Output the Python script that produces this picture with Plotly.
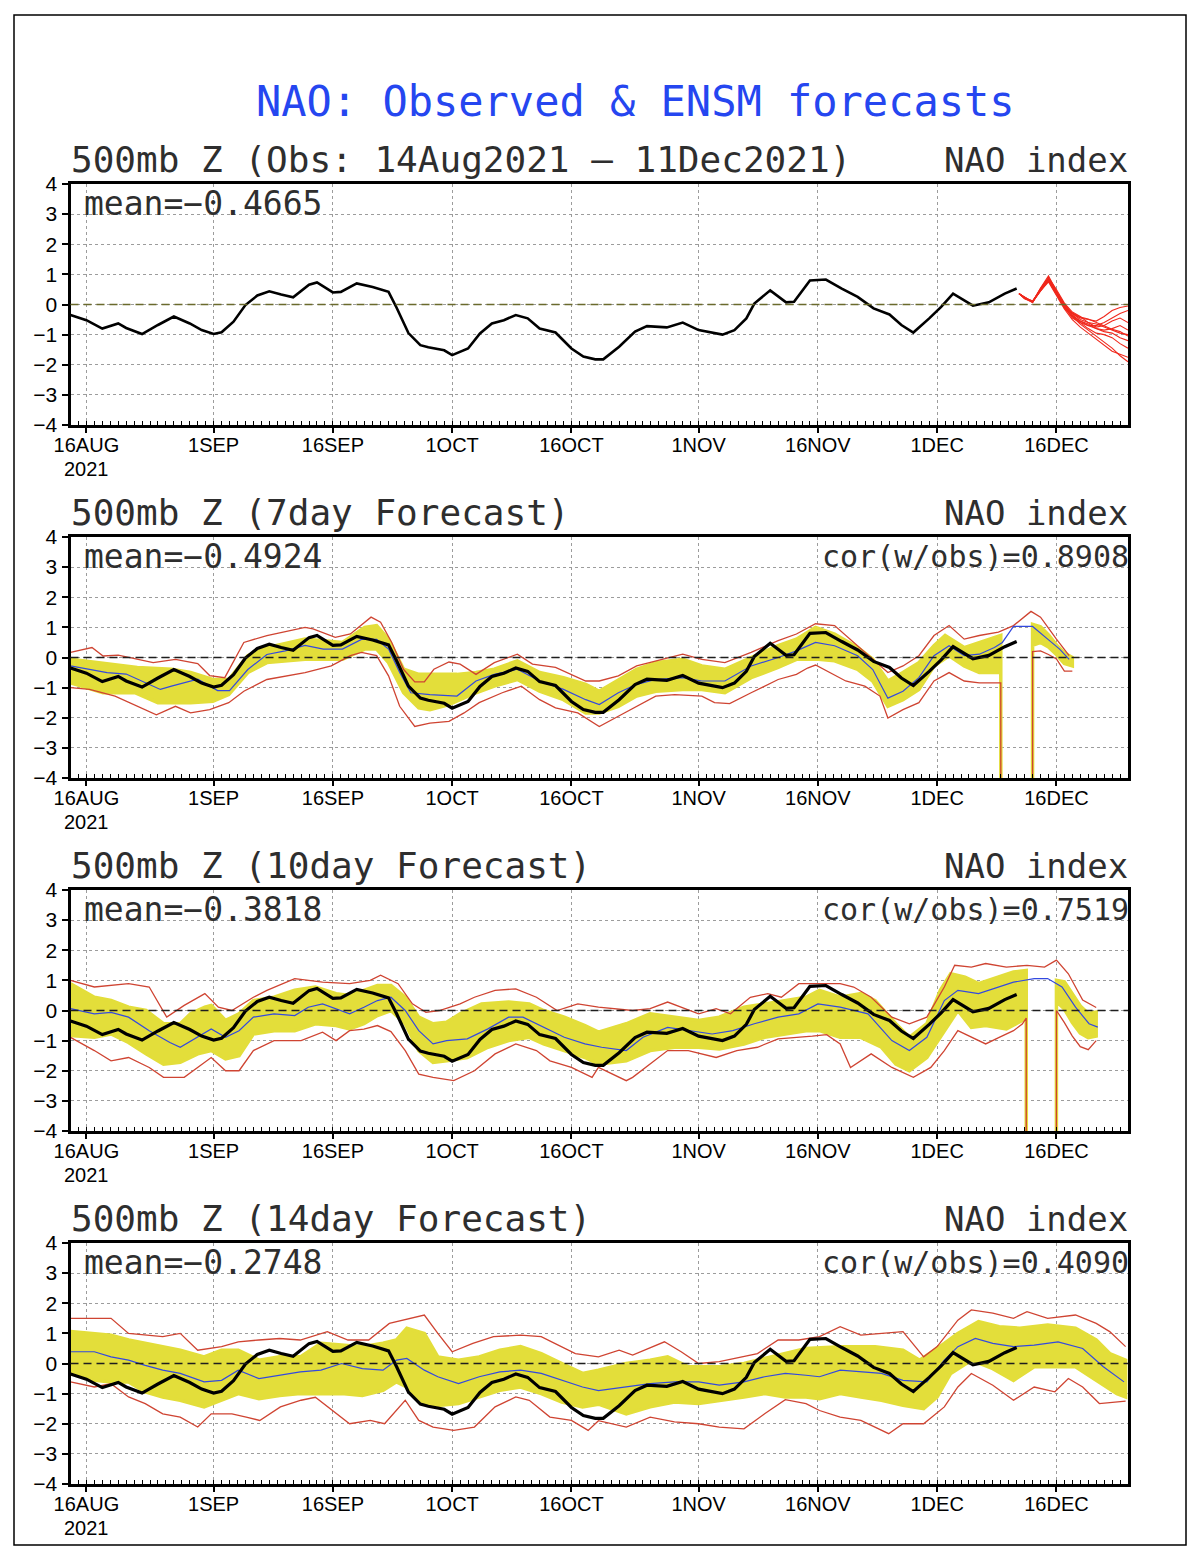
import pandas as pd
import plotly.graph_objects as go

# ---------------- DATA ----------------
START = "2021-08-14"
END = "2021-12-25"
UNDEF = -999.0  # GrADS undefined value

TICK_DAYS = ["2021-08-16", "2021-09-01", "2021-09-16", "2021-10-01", "2021-10-16",
             "2021-11-01", "2021-11-16", "2021-12-01", "2021-12-16"]
TICK_TEXT = ["16AUG", "1SEP", "16SEP", "1OCT", "16OCT", "1NOV", "16NOV", "1DEC", "16DEC"]
YEAR_LABEL = "2021"
Y_TICKS = [-4, -3, -2, -1, 0, 1, 2, 3, 4]

MAIN_TITLE = "NAO: Observed & ENSM forecasts"
PANEL_TITLES = ["500mb Z (Obs: 14Aug2021 – 11Dec2021)", "500mb Z (7day Forecast)",
                "500mb Z (10day Forecast)", "500mb Z (14day Forecast)"]
RIGHT_TITLE = "NAO index"
MEAN_TEXT = ["mean=−0.4665", "mean=−0.4924", "mean=−0.3818", "mean=−0.2748"]
COR_TEXT = [None, "cor(w/obs)=0.8908", "cor(w/obs)=0.7519", "cor(w/obs)=0.4090"]

# observed NAO (days after 14 Aug 2021)
OBS_DAY = [0, 2, 4, 6, 7, 9, 11, 13, 15, 16.5, 18, 19, 20.5, 22, 23.5, 25, 26.5, 28, 30, 31,
           33, 34, 36, 38, 40, 41, 42.5, 44, 45, 47, 48, 50, 51.5, 53, 54.5, 56, 57.5, 59, 61, 63,
           64.5, 66, 67, 69, 71, 72.5, 75, 77, 79, 80.5, 82, 83.5, 85, 86, 88, 90, 91, 93, 95, 97,
           99, 101, 103, 104.5, 106, 108, 109.5, 111, 113.5, 115.5, 117.5, 119]
OBS_VAL = [-0.35, -0.52, -0.80, -0.63, -0.78, -0.98, -0.68, -0.40, -0.63, -0.85,
           -0.98, -0.92, -0.57, -0.02, 0.30, 0.44, 0.33, 0.24, 0.66, 0.73,
           0.40, 0.42, 0.70, 0.58, 0.42, -0.10, -0.95, -1.35, -1.42, -1.52,
           -1.68, -1.46, -0.96, -0.63, -0.52, -0.35, -0.46, -0.80, -0.93, -1.46,
           -1.73, -1.82, -1.82, -1.40, -0.90, -0.72, -0.76, -0.60, -0.85, -0.93,
           -1.00, -0.85, -0.46, 0.03, 0.47, 0.07, 0.09, 0.80, 0.83, 0.53,
           0.25, -0.13, -0.33, -0.68, -0.93, -0.46, -0.08, 0.36, -0.04, 0.07,
           0.36, 0.53]

# ensemble member forecasts in top panel
ENS_DAY = [119.3, 120, 121, 122, 123, 124, 125, 126, 127, 128, 129, 130, 131, 132, 133]
ENS_M1 = [0.36, 0.25, 0.08, 0.55, 0.95, 0.45, 0.00, -0.35, -0.55, -0.70, -0.80, -0.90, -0.95, -1.10, -1.20]
ENS_M2 = [0.36, 0.22, 0.10, 0.50, 0.85, 0.40, -0.05, -0.40, -0.65, -0.85, -1.05, -1.25, -1.45, -1.70, -1.90]
ENS_M3 = [0.36, 0.20, 0.12, 0.48, 0.80, 0.35, -0.10, -0.30, -0.45, -0.50, -0.55, -0.40, -0.20, -0.10, -0.05]
ENS_M4 = [0.36, 0.24, 0.06, 0.52, 0.90, 0.50, 0.05, -0.25, -0.40, -0.60, -0.75, -0.70, -0.55, -0.45, -0.60]
ENS_M5 = [0.36, 0.21, 0.09, 0.45, 0.75, 0.30, -0.15, -0.50, -0.75, -0.95, -1.15, -1.35, -1.55, -1.65, -1.75]
ENS_M6 = [0.36, 0.23, 0.11, 0.50, 0.82, 0.42, 0.02, -0.30, -0.50, -0.60, -0.65, -0.75, -0.85, -0.95, -1.00]
ENS_M7 = [0.36, 0.19, 0.07, 0.47, 0.78, 0.38, -0.08, -0.45, -0.60, -0.70, -0.70, -0.60, -0.45, -0.30, -0.20]
ENS_M8 = [0.36, 0.22, 0.10, 0.53, 0.88, 0.44, 0.00, -0.35, -0.60, -0.80, -0.95, -1.00, -1.10, -1.30, -1.45]
ENS_M9 = [0.36, 0.24, 0.08, 0.49, 0.84, 0.36, -0.12, -0.40, -0.55, -0.65, -0.80, -0.85, -0.80, -0.70, -0.85]
ENS_M10 = [0.36, 0.20, 0.10, 0.46, 0.80, 0.33, -0.05, -0.28, -0.42, -0.48, -0.60, -0.70, -0.82, -0.90, -1.05]

# ---- 7 day forecast ----
P2_MEAN_DAY = [0, 4.6, 7, 11.3, 12.7, 16, 18.5, 20, 22.3, 24.7, 27, 29.5, 31.8, 34.2, 36.6, 38.5, 40,
               41.4, 42.8, 45.2, 48.6, 51, 53.3, 56.2, 59, 62, 64.8, 66.5, 68.9, 71.2, 73.6, 77, 79.4,
               82.3, 85.6, 89, 91.3, 93.7, 96.1, 99, 100.9, 102.8, 104.7, 106.7, 108.6, 110.5, 112.4,
               114.3, 116.2, 117.2, 118.6, 121, 122.9, 124.4, 125.6]
P2_MEAN_VAL = [-0.28, -0.50, -0.55, -1.06, -0.95, -0.72, -1.10, -1.10, -0.40, 0.10,
               0.22, 0.40, 0.28, 0.28, 0.60, 0.60, 0.28, -0.50, -1.17, -1.23,
               -1.28, -0.78, -0.56, -0.39, -0.78, -1.06, -1.40, -1.56, -1.17, -0.89,
               -0.73, -0.67, -0.78, -0.78, -0.28, 0.00, 0.22, 0.50, 0.39, 0.06,
               -0.40, -1.35, -1.12, -0.67, 0.06, 0.39, 0.06, 0.11, 0.33, 0.50,
               1.03, 1.03, 0.61, 0.28, -0.06]
P2_YHI_DAY = [0, 5.5, 8.4, 12.7, 15.1, 17.9, 19.9, 22.3, 24.7, 29.5, 34.2, 37, 38.5, 40, 41.9, 43.8,
              46.2, 48.6, 51, 53.3, 56.2, 59, 62, 64.8, 66.5, 68.9, 71.2, 73.6, 77, 79.4, 82.3, 85.6,
              89, 91.3, 93.7, 96.1, 99, 100.9, 102.8, 104.7, 106.7, 108.6, 110, 112.4, 114.3, 117,
              118, 120, 121, 122, 123, 124, 125, 126]
P2_YHI_VAL = [-0.06, -0.22, -0.33, -0.39, -0.50, -0.73, -0.73, 0.06, 0.33, 0.61,
              0.50, 1.00, 1.06, 0.61, -0.39, -0.56, -0.56, -0.56, -0.50, -0.39,
              -0.11, -0.50, -0.67, -0.89, -1.12, -0.73, -0.39, -0.17, -0.06, -0.28,
              -0.39, 0.00, 0.39, 0.61, 1.00, 0.78, 0.33, -0.06, -0.78, -0.50,
              -0.17, 0.39, 0.73, 0.33, 0.50, 0.73, UNDEF, UNDEF, 1.10, 1.02,
              0.75, 0.42, 0.15, 0.00]
P2_YLO_DAY = [0, 4.1, 8.1, 11, 15.1, 17.9, 19.9, 22.3, 24.7, 29.5, 34.2, 37, 38.5, 40, 41.9, 43.8,
              45.2, 47.6, 51, 53.3, 56.2, 59, 62, 64.8, 66.5, 68.9, 71.2, 73.6, 77, 79.4, 82.3, 85.6,
              89, 91.3, 93.7, 96.1, 99, 100.9, 102.8, 104.7, 106.7, 108.6, 110.5, 112.4, 114.3, 117,
              118, 120, 121, 122, 123, 124, 125, 126]
P2_YLO_VAL = [-0.84, -1.17, -1.17, -1.50, -1.50, -1.45, -1.23, -0.50, -0.17, -0.06,
              -0.06, 0.28, 0.28, -0.17, -1.17, -1.67, -1.73, -1.56, -1.17, -0.95,
              -0.73, -1.12, -1.40, -1.84, -1.84, -1.62, -1.28, -1.12, -1.06, -1.06,
              -1.17, -0.67, -0.33, -0.06, -0.05, -0.11, -0.39, -0.78, -1.62, -1.40,
              -1.06, -0.28, 0.06, -0.28, -0.50, -0.50, UNDEF, UNDEF, 0.40, 0.50,
              0.35, 0.10, -0.20, -0.28]
P2_RHI_DAY = [0, 2.7, 4.1, 6, 10.4, 13.2, 16, 17.5, 19.4, 21.8, 24.7, 29.5, 30.5, 33.3, 35.2, 37.8,
              39, 40.4, 41.9, 43.3, 44.5, 45.7, 47.6, 49, 51, 53.3, 56.2, 58.1, 61, 64.8, 66.5, 68.9,
              71.2, 73.6, 77, 79.4, 82.3, 85.6, 89, 91.3, 93.7, 96.1, 99, 100.9, 102.8, 104.7, 106.7,
              108.6, 110.5, 112.4, 114.3, 116.7, 118.6, 120.8, 122, 124, 125.6]
P2_RHI_VAL = [0.17, 0.33, 0.05, 0.08, -0.17, -0.06, -0.20, -0.60, -0.67, 0.50,
              0.73, 1.00, 0.95, 0.67, 0.78, 1.34, 1.17, 0.50, -0.40, -0.81,
              -0.81, -0.39, -0.15, -0.22, -0.56, -0.17, 0.11, -0.22, -0.33, -0.78,
              -0.78, -0.61, -0.28, -0.11, 0.11, -0.06, -0.17, 0.17, 0.56, 0.78,
              1.12, 1.06, 0.39, -0.06, -0.50, -0.28, 0.06, 0.73, 1.06, 0.61,
              0.73, 0.84, 1.06, 1.53, 1.34, 0.61, 0.06]
P2_RLO_DAY = [0, 2.4, 5.6, 8.4, 10.8, 13.2, 15.1, 17.5, 19.9, 21.8, 24.7, 29.5, 32.8, 35.2, 36.6,
              38.5, 40, 41.4, 43.3, 45.2, 47.6, 49.5, 51.4, 54.3, 56.7, 59, 61, 63.8, 66.5, 68.9,
              71.2, 73.6, 76, 79.4, 81, 82.9, 85.6, 89, 91.3, 92.7, 93.7, 95.1, 97.5, 99.9, 101.8,
              102.8, 104.7, 106.7, 108.6, 110.5, 112.4, 114.3, 117, 118, 120, 121, 122, 123, 124,
              125, 126]
P2_RLO_VAL = [-1.00, -1.06, -1.28, -1.62, -1.90, -1.62, -1.84, -1.73, -1.50, -1.12,
              -0.73, -0.50, -0.28, 0.06, 0.17, 0.06, -0.61, -1.62, -2.29, -2.18,
              -2.12, -1.84, -1.50, -1.17, -0.95, -1.40, -1.67, -1.84, -2.29, -1.95,
              -1.62, -1.28, -1.23, -1.28, -1.50, -1.53, -1.17, -0.73, -0.56, -0.35,
              -0.25, -0.45, -0.78, -0.95, -1.28, -2.01, -1.73, -1.50, -0.78, -0.50,
              -0.78, -0.84, -0.84, UNDEF, UNDEF, 0.20, 0.22, 0.10, -0.05, -0.45,
              -0.45]

# ---- 10 day forecast ----
P3_MEAN_DAY = [0, 3.0, 5.1, 7.3, 9.9, 12.5, 13.8, 16.0, 17.7, 19.5, 21.2, 23.0, 25.6, 28.2, 29.9,
               31.7, 33.4, 35.1, 36.9, 38.6, 40.3, 42.1, 43.8, 45.6, 47.3, 49.9, 52.5, 55.1, 56.9,
               59.5, 62.1, 64.7, 66.8, 69.9, 72.0, 75.1, 77.7, 80.7, 83.3, 86.0, 89.0, 91.6, 94.0,
               96.8, 100.3, 103.3, 105.5, 107.7, 109.9, 111.6, 114.2, 116.8, 118.6, 121.2, 122.9,
               124.7, 126.4, 128.1, 129.2]
P3_MEAN_VAL = [0.06, -0.11, -0.06, -0.22, -0.67, -1.06, -1.22, -0.89, -0.61, -0.89,
               -0.67, -0.22, -0.11, -0.17, 0.11, 0.22, 0.06, -0.11, 0.11, 0.33,
               0.44, 0.00, -0.67, -1.11, -1.00, -0.94, -0.61, -0.22, -0.22, -0.56,
               -0.89, -1.11, -1.22, -1.33, -0.89, -0.56, -0.67, -0.78, -0.67, -0.44,
               -0.22, -0.11, 0.22, 0.11, -0.11, -1.00, -1.33, -0.89, 0.33, 0.67,
               0.56, 0.78, 0.94, 1.06, 1.06, 0.78, 0.11, -0.44, -0.55]
P3_YHI_DAY = [0, 3.0, 5.1, 7.3, 9.5, 11.7, 13.8, 15.1, 16.9, 17.7, 19.5, 21.2, 23.0, 25.6, 28.2,
              30.8, 33.4, 35.1, 36.9, 38.6, 40.3, 42.1, 43.8, 45.6, 47.3, 49.0, 51.7, 55.1, 57.7,
              59.5, 62.1, 64.7, 66.4, 69.9, 72.9, 75.96, 79.0, 81.6, 84.7, 87.3, 89.9, 92.5, 94.2,
              96.8, 99.4, 101.2, 103.8, 105.5, 107.7, 109.4, 110.7, 112.5, 114.2, 116.8, 118.6,
              120.2, 121, 123, 124, 125, 126, 127, 128, 129]
P3_YHI_VAL = [0.89, 0.44, 0.33, 0.11, 0.00, -0.44, -0.44, -0.11, 0.11, 0.17,
              -0.33, -0.11, 0.33, 0.44, 0.67, 0.78, 0.56, 0.50, 0.67, 0.83,
              0.83, 0.44, -0.22, -0.44, -0.39, -0.11, 0.22, 0.28, 0.22, 0.00,
              -0.22, -0.50, -0.72, -0.44, -0.11, -0.22, -0.33, -0.22, 0.11, 0.22,
              0.33, 0.44, 0.67, 0.44, 0.56, 0.33, -0.44, -0.89, -0.44, 0.67,
              1.22, 1.11, 0.89, 1.11, 1.28, 1.33, UNDEF, UNDEF, 1.00, 0.95,
              0.55, 0.15, -0.10, -0.05]
P3_YLO_DAY = [0, 3.0, 5.1, 7.3, 9.5, 11.7, 13.8, 16.0, 17.7, 19.5, 21.2, 23.0, 25.6, 28.2, 30.8,
              33.4, 35.1, 36.9, 38.6, 40.3, 42.1, 43.8, 45.6, 47.3, 49.9, 52.5, 55.1, 57.7, 59.5,
              62.1, 64.7, 66.4, 69.9, 72.9, 75.96, 79.0, 81.6, 84.7, 87.3, 89.9, 92.5, 94.2, 96.8,
              99.4, 102.0, 103.8, 105.5, 107.7, 109.9, 111.6, 113.3, 115.1, 117.7, 119.7, 120.2,
              121, 123, 124, 125, 126, 127, 128, 129]
P3_YLO_VAL = [-0.83, -0.89, -0.78, -1.06, -1.44, -1.78, -1.72, -1.44, -1.33, -1.61,
              -1.50, -0.78, -0.67, -0.67, -0.44, -0.50, -0.61, -0.44, -0.17, 0.00,
              -0.44, -1.33, -1.72, -1.67, -1.56, -1.22, -1.00, -0.89, -1.11, -1.33,
              -1.56, -1.78, -1.67, -1.33, -1.22, -1.22, -1.28, -1.11, -0.89, -0.78,
              -0.67, -0.67, -0.89, -0.89, -1.22, -1.78, -2.00, -1.56, -0.67, 0.00,
              -0.56, -0.50, -0.61, -0.33, -0.11, UNDEF, UNDEF, 0.30, 0.05, -0.40,
              -0.75, -0.90, -0.85]
P3_RHI_DAY = [0, 3.0, 7.3, 9.9, 12.1, 14.3, 16.9, 18.6, 20.3, 23.0, 24.7, 28.2, 31.7, 35.1, 37.7,
              39.0, 41.2, 43.0, 44.7, 46.4, 49.0, 50.8, 53.4, 56.0, 58.6, 61.2, 63.8, 66.4, 70.7,
              72.9, 75.1, 79.0, 81.2, 83.0, 85.5, 87.7, 89.4, 91.6, 96.8, 98.5, 100.7, 103.3, 105.5,
              107.7, 109.9, 111.2, 113.3, 115.1, 117.7, 120.3, 122.5, 124.0, 125.5, 127.3, 129.0]
P3_RHI_VAL = [1.00, 0.78, 0.89, 0.78, -0.22, 0.17, 0.56, 0.11, 0.00, 0.44,
              0.67, 1.06, 0.94, 0.89, 1.00, 1.17, 0.89, 0.22, -0.06, 0.00,
              0.22, 0.44, 0.67, 0.72, 0.44, 0.00, 0.22, 0.11, 0.00, 0.06,
              0.28, -0.11, 0.06, -0.11, 0.44, 0.56, 0.44, 0.89, 0.89, 0.78,
              0.44, -0.22, -0.44, -0.22, 0.78, 1.50, 1.44, 1.56, 1.44, 1.50,
              1.44, 1.67, 1.22, 0.35, 0.10]
P3_RLO_DAY = [0, 3.0, 5.1, 7.3, 9.9, 11.7, 14.3, 16.0, 17.7, 19.5, 21.2, 23.0, 25.6, 29.0, 31.7,
              33.4, 35.1, 36.9, 38.6, 40.3, 42.1, 43.8, 45.6, 48.2, 50.8, 53.4, 56.0, 58.6, 60.3,
              63.0, 65.6, 66.4, 69.9, 70.7, 72.9, 75.1, 77.7, 79.4, 81.2, 83.8, 86.4, 89.0, 91.6,
              93.3, 95.1, 96.8, 98.1, 100.7, 103.3, 106.0, 108.2, 109.9, 111.6, 113.3, 115.1, 116.8,
              118.6, 119.7, 120.2, 121, 123, 124, 125, 126, 127, 128, 129]
P3_RLO_VAL = [-0.89, -1.33, -1.67, -1.56, -1.89, -2.22, -2.22, -1.89, -1.56, -2.00,
              -2.00, -1.33, -1.00, -1.00, -0.72, -1.00, -0.67, -0.62, -0.50, -0.70,
              -1.33, -2.11, -2.22, -2.33, -2.00, -1.44, -1.11, -1.33, -1.67, -1.89,
              -2.22, -1.89, -2.33, -2.22, -1.78, -1.33, -1.33, -1.44, -1.56, -1.33,
              -1.22, -0.94, -0.90, -0.85, -0.80, -1.11, -1.89, -1.44, -1.89, -2.22,
              -1.89, -1.33, -0.67, -0.89, -1.11, -0.89, -0.67, -0.45, -0.25, UNDEF,
              UNDEF, 0.00, -0.40, -0.85, -1.20, -1.30, -1.00]

# ---- 14 day forecast ----
P4_MEAN_DAY = [0, 3.0, 5.1, 7.3, 9.4, 11.6, 13.8, 16.8, 19.0, 21.1, 23.7, 26.3, 28.9, 31.5, 34.1,
               36.7, 39.3, 41.0, 42.3, 44.5, 46.2, 48.8, 51.4, 54.0, 56.6, 59.2, 61.8, 64.4, 66.4,
               69.9, 72.9, 75.96, 79.0, 81.6, 84.7, 87.3, 89.9, 92.5, 94.2, 96.8, 99.4, 102.0, 104.7,
               107.7, 109.9, 111.6, 113.8, 116.0, 118.6, 121.2, 124.2, 127.3, 129.9, 132.5]
P4_MEAN_VAL = [0.39, 0.39, 0.22, 0.11, -0.06, -0.22, -0.33, -0.61, -0.56, -0.22,
               -0.50, -0.39, -0.28, -0.22, 0.00, -0.17, -0.22, 0.11, 0.17, -0.22,
               -0.44, -0.67, -0.44, -0.28, -0.22, -0.33, -0.56, -0.78, -0.90, -0.78,
               -0.67, -0.61, -0.61, -0.72, -0.61, -0.44, -0.33, -0.39, -0.44, -0.22,
               -0.28, -0.33, -0.56, -0.61, 0.11, 0.56, 0.83, 0.67, 0.56, 0.61,
               0.72, 0.50, -0.11, -0.61]
P4_YHI_DAY = [0, 3.0, 5.1, 7.3, 9.4, 11.6, 13.8, 16.8, 19.0, 21.1, 23.7, 26.3, 28.9, 31.5, 34.1,
              36.7, 39.3, 41.0, 42.3, 44.5, 46.2, 48.8, 51.4, 54.0, 56.6, 59.2, 61.8, 64.4, 66.4,
              69.9, 72.9, 75.1, 77.7, 81.6, 84.7, 87.3, 89.9, 92.5, 96.8, 101.2, 104.7, 106.8, 109.9,
              111.6, 114.2, 116.8, 119.4, 122.9, 126.4, 129.0, 130.7, 132.7]
P4_YHI_VAL = [1.06, 1.00, 0.94, 0.78, 0.67, 0.56, 0.44, 0.22, 0.44, 0.44,
              0.11, 0.22, 0.22, 0.67, 0.61, 0.56, 0.67, 0.78, 1.17, 1.00,
              0.22, 0.11, 0.22, 0.44, 0.56, 0.33, 0.00, -0.33, -0.22, 0.00,
              0.11, 0.22, -0.11, -0.11, 0.00, 0.17, 0.33, 0.50, 0.56, 0.56,
              0.44, 0.11, 0.67, 1.00, 1.39, 1.22, 1.17, 1.28, 1.17, 0.78,
              0.33, 0.11]
P4_YLO_DAY = [0, 3.0, 5.1, 7.3, 9.4, 11.6, 13.8, 16.8, 19.0, 21.1, 23.7, 26.3, 28.9, 31.5, 34.1,
              36.7, 39.3, 41.0, 42.3, 44.5, 46.2, 48.8, 51.4, 54.0, 56.6, 59.2, 61.8, 64.4, 66.4,
              69.9, 72.9, 75.96, 79.0, 81.6, 84.7, 87.3, 89.9, 92.5, 94.2, 96.8, 99.4, 102.0, 104.7,
              107.3, 109.0, 110.7, 113.3, 116.0, 118.6, 121.2, 123.8, 126.4, 129.0, 131.6, 132.7]
P4_YLO_VAL = [-0.33, -0.56, -0.61, -0.61, -0.94, -1.11, -1.22, -1.44, -1.22, -1.00,
              -1.17, -1.06, -1.00, -1.00, -1.00, -1.06, -0.89, -0.61, -0.78, -1.33,
              -1.39, -1.33, -1.11, -0.89, -0.78, -1.00, -1.28, -1.44, -1.35, -1.67,
              -1.44, -1.28, -1.33, -1.22, -1.11, -1.00, -1.11, -1.11, -1.17, -1.00,
              -1.11, -1.22, -1.39, -1.50, -1.11, -0.33, 0.11, -0.17, -0.56, -0.11,
              -0.11, -0.11, -0.56, -1.00, -1.11]
P4_RHI_DAY = [0, 5.1, 7.3, 11.6, 13.8, 16.0, 19.0, 21.1, 23.7, 26.3, 28.9, 32.3, 34.9, 37.5, 40.1,
              42.7, 44.5, 46.2, 48.0, 50.6, 53.2, 56.6, 59.2, 60.9, 63.5, 66.4, 69.0, 70.7, 74.7,
              76.8, 79.0, 81.6, 84.7, 86.4, 89.0, 91.6, 94.2, 96.8, 99.4, 102.0, 104.7, 107.3, 109.0,
              111.6, 113.3, 116.0, 118.6, 120.3, 122.9, 126.4, 129.0, 130.7, 132.7]
P4_RHI_VAL = [1.50, 1.50, 1.00, 0.89, 1.00, 0.44, 0.56, 0.72, 0.78, 0.83,
              0.78, 1.06, 0.78, 0.78, 1.33, 1.50, 1.61, 1.00, 0.39, 0.67,
              0.89, 0.94, 0.89, 0.67, 0.33, 0.22, 0.44, 0.28, 0.72, 0.39,
              0.00, 0.06, 0.22, 0.33, 0.78, 0.78, 0.89, 1.22, 0.94, 1.00,
              1.06, 0.22, 0.56, 1.44, 1.78, 1.67, 1.50, 1.72, 1.50, 1.61,
              1.33, 1.06, 0.56]
P4_RLO_DAY = [0, 3.0, 5.1, 7.3, 9.4, 11.6, 13.8, 16.0, 17.7, 20.3, 22.1, 23.8, 26.4, 29.0, 30.8,
              33.4, 35.1, 37.7, 39.5, 42.1, 43.8, 45.6, 48.2, 50.8, 53.4, 56.0, 57.7, 60.3, 63.0,
              65.1, 66.4, 69.9, 72.9, 75.96, 79.0, 81.6, 84.7, 87.3, 89.9, 92.5, 94.2, 96.8, 99.4,
              102.9, 104.7, 107.3, 109.9, 111.6, 113.3, 116.0, 118.6, 121.2, 123.8, 125.5, 127.3,
              129.4, 131.6, 132.7]
P4_RLO_VAL = [-0.61, -0.78, -0.67, -1.11, -1.33, -1.67, -1.78, -2.11, -1.67, -1.67,
              -1.78, -1.89, -1.44, -1.22, -1.12, -1.67, -2.00, -1.89, -2.00, -1.22,
              -1.89, -2.11, -2.22, -2.11, -1.44, -1.11, -1.22, -1.78, -1.89, -2.22,
              -1.90, -2.11, -1.78, -1.94, -2.00, -2.11, -2.17, -1.67, -1.20, -1.33,
              -1.56, -1.78, -1.89, -2.33, -2.00, -2.00, -1.44, -0.78, -0.33, -0.72,
              -1.22, -0.78, -0.94, -0.50, -0.78, -1.33, -1.28, -1.25]

# ---------------- FIGURE ----------------
W, H = 1200, 1553
T0 = pd.Timestamp(START)


def dts(days):
    return [T0 + pd.Timedelta(days=float(d)) for d in days]


YELLOW = "#e3de3a"
RED = "#cf4432"
BLUE = "#3349df"
ENS_RED = "#f0281c"
TXT = "#2e2e2e"
MONO = "DejaVu Sans Mono"
TICKFONT = dict(family="Liberation Sans Narrow, Liberation Sans, Arial", size=20, color="black")

XDOM = [70.5 / W, 1128 / W]
PANEL_PX = [(184, 425), (537, 778), (890, 1131), (1243, 1484)]

FORECASTS = {
    1: dict(mean=(P2_MEAN_DAY, P2_MEAN_VAL), yhi=(P2_YHI_DAY, P2_YHI_VAL), ylo=(P2_YLO_DAY, P2_YLO_VAL),
            rhi=(P2_RHI_DAY, P2_RHI_VAL), rlo=(P2_RLO_DAY, P2_RLO_VAL)),
    2: dict(mean=(P3_MEAN_DAY, P3_MEAN_VAL), yhi=(P3_YHI_DAY, P3_YHI_VAL), ylo=(P3_YLO_DAY, P3_YLO_VAL),
            rhi=(P3_RHI_DAY, P3_RHI_VAL), rlo=(P3_RLO_DAY, P3_RLO_VAL)),
    3: dict(mean=(P4_MEAN_DAY, P4_MEAN_VAL), yhi=(P4_YHI_DAY, P4_YHI_VAL), ylo=(P4_YLO_DAY, P4_YLO_VAL),
            rhi=(P4_RHI_DAY, P4_RHI_VAL), rlo=(P4_RLO_DAY, P4_RLO_VAL)),
}
ENS_MEMBERS = [ENS_M1, ENS_M2, ENS_M3, ENS_M4, ENS_M5, ENS_M6, ENS_M7, ENS_M8, ENS_M9, ENS_M10]

fig = go.Figure()
layout = dict(width=W, height=H, margin=dict(l=0, r=0, t=0, b=0, pad=0, autoexpand=False),
              autosize=False, paper_bgcolor="white", plot_bgcolor="white", showlegend=False,
              hovermode=False, annotations=[], shapes=[])

for i, (top, bot) in enumerate(PANEL_PX):
    n = i + 1
    xs = "x" if n == 1 else f"x{n}"
    ys = "y" if n == 1 else f"y{n}"
    xkey = "xaxis" if n == 1 else f"xaxis{n}"
    ykey = "yaxis" if n == 1 else f"yaxis{n}"
    layout[xkey] = dict(domain=XDOM, anchor=ys, type="date", range=[START, END],
                        tickmode="array", tickvals=TICK_DAYS, ticktext=TICK_TEXT,
                        ticks="outside", ticklen=5, tickwidth=2, tickcolor="black",
                        ticklabelstandoff=-5, automargin=False,
                        showline=True, linewidth=3, linecolor="black", mirror=True,
                        showgrid=True, gridcolor="#9c9c9c", gridwidth=1, griddash="dot",
                        zeroline=False, tickfont=TICKFONT,
                        minor=dict(dtick=86400000, ticks="inside", ticklen=4, tickwidth=1,
                                   tickcolor="black", showgrid=False))
    # top-edge daily tick marks (overlay axis, no labels)
    layout[f"xaxis{n + 4}"] = dict(domain=XDOM, anchor=ys, overlaying=xs, side="top", type="date",
                                   range=[START, END], tickmode="linear", tick0=START,
                                   dtick=86400000, ticks="inside", ticklen=4, tickwidth=1,
                                   tickcolor="black", showticklabels=False, showgrid=False,
                                   showline=False, zeroline=False, automargin=False)
    layout[ykey] = dict(domain=[1 - bot / H, 1 - top / H], anchor=xs, range=[-4, 4],
                        tickmode="array", tickvals=Y_TICKS, automargin=False,
                        ticks="outside", ticklen=6, tickwidth=2, tickcolor="black",
                        showline=True, linewidth=3, linecolor="black", mirror=True,
                        showgrid=True, gridcolor="#9c9c9c", gridwidth=1, griddash="dot",
                        zeroline=False, tickfont=dict(TICKFONT, size=21), ticklabelstandoff=0)

    if i == 0:
        fig.add_trace(go.Scatter(x=dts(OBS_DAY), y=OBS_VAL, mode="lines", xaxis=xs, yaxis=ys,
                                 line=dict(color="black", width=2.6)))
        for m in ENS_MEMBERS:
            fig.add_trace(go.Scatter(x=dts(ENS_DAY), y=m, mode="lines", xaxis=xs, yaxis=ys,
                                     line=dict(color=ENS_RED, width=1.1)))
        zc = "#6a6a2c"
    else:
        f = FORECASTS[i]
        hd, hv = f["yhi"]
        ld, lv = f["ylo"]
        fig.add_trace(go.Scatter(x=dts(hd) + dts(ld)[::-1], y=list(hv) + list(lv)[::-1],
                                 mode="lines", fill="toself", fillcolor=YELLOW,
                                 line=dict(color=YELLOW, width=3.5), xaxis=xs, yaxis=ys))
        for key in ("rhi", "rlo"):
            d, v = f[key]
            fig.add_trace(go.Scatter(x=dts(d), y=v, mode="lines", xaxis=xs, yaxis=ys,
                                     line=dict(color=RED, width=1.3)))
        d, v = f["mean"]
        fig.add_trace(go.Scatter(x=dts(d), y=v, mode="lines", xaxis=xs, yaxis=ys,
                                 line=dict(color=BLUE, width=1.2)))
        fig.add_trace(go.Scatter(x=dts(OBS_DAY), y=OBS_VAL, mode="lines", xaxis=xs, yaxis=ys,
                                 line=dict(color="black", width=3.2)))
        zc = "#1e1e1e"

    layout["shapes"].append(dict(type="line", xref=f"{xs} domain", yref=ys, x0=0, x1=1, y0=0, y1=0,
                                 line=dict(color=zc, width=1.6, dash="8px,5px"), layer="above"))

    layout["annotations"].append(dict(text=YEAR_LABEL, x=TICK_DAYS[0], xref=xs, y=1 - (bot + 44) / H,
                                      yref="paper", xanchor="center", yanchor="middle",
                                      showarrow=False, font=TICKFONT))
    layout["annotations"].append(dict(text=PANEL_TITLES[i], x=69 / W, y=1 - top / H, xref="paper",
                                      yref="paper", xanchor="left", yanchor="bottom", yshift=2,
                                      showarrow=False, font=dict(family=MONO, size=36, color=TXT)))
    layout["annotations"].append(dict(text=RIGHT_TITLE, x=1130 / W, y=1 - top / H, xref="paper",
                                      yref="paper", xanchor="right", yanchor="bottom", yshift=2,
                                      showarrow=False, font=dict(family=MONO, size=34, color=TXT)))
    layout["annotations"].append(dict(text=MEAN_TEXT[i], x=82 / W, y=1 - (top + 19) / H, xref="paper",
                                      yref="paper", xanchor="left", yanchor="middle",
                                      showarrow=False, font=dict(family=MONO, size=33, color=TXT)))
    if COR_TEXT[i]:
        layout["annotations"].append(dict(text=COR_TEXT[i], x=1131 / W, y=1 - (top + 19) / H,
                                          xref="paper", yref="paper", xanchor="right",
                                          yanchor="middle", showarrow=False,
                                          font=dict(family=MONO, size=30, color=TXT)))

layout["annotations"].append(dict(text=MAIN_TITLE, x=635 / W, y=1 - 101 / H, xref="paper", yref="paper",
                                  xanchor="center", yanchor="middle", showarrow=False,
                                  font=dict(family=MONO, size=42, color="#2546f0")))
layout["shapes"].append(dict(type="rect", xref="paper", yref="paper", x0=14 / W, x1=1186 / W,
                             y0=1 - 1545 / H, y1=1 - 15 / H, line=dict(color="black", width=1.5),
                             layer="above"))

fig.update_layout(**layout)
fig.write_html("out.html", config={"displayModeBar": False, "responsive": False},
               post_script="document.body.style.margin='0';document.body.style.overflow='hidden';")
